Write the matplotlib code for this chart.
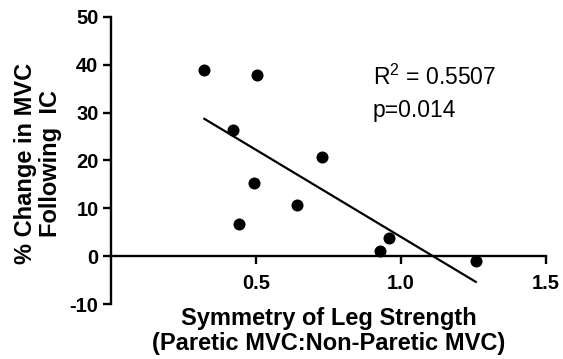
import numpy as np
import matplotlib
matplotlib.use("Agg")
import matplotlib.pyplot as plt

# ─── données ─────────────────────────────────────────────────────────────────
symetrie = [0.322, 0.502, 0.422, 0.728, 0.493, 0.640, 0.441, 0.957, 0.928, 1.258]
chg_mvc  = [38.9, 37.9, 26.4, 20.8, 15.3, 10.7, 6.8, 3.9, 1.0, -1.0]

x_ticks = [0.5, 1.0, 1.5]
x_tick_labels = ["0.5", "1.0", "1.5"]
y_ticks = [-10, 0, 10, 20, 30, 40, 50]

r2_txt = r"$\mathrm{R}^{2}$ = 0.5507"
p_txt  = "p=0.014"

plt.rcParams["font.family"] = ["Liberation Sans", "DejaVu Sans"]
plt.rcParams["axes.unicode_minus"] = False
plt.rcParams["mathtext.fontset"] = "custom"
plt.rcParams["mathtext.rm"] = "Liberation Sans"

fig = plt.figure(figsize=(5.63, 3.59), dpi=100)
ax = fig.add_axes([111 / 563, 1 - 304 / 359, 435 / 563, 287 / 359])

# points
ax.scatter(symetrie, chg_mvc, s=75, color="black", zorder=3, linewidths=0)

# droite de régression
pente, orig = np.polyfit(symetrie, chg_mvc, 1)
xs = np.array([min(symetrie), max(symetrie)])
ax.plot(xs, pente * xs + orig, color="black", lw=1.6, zorder=2)

ax.set_xlim(0, 1.5)
ax.set_ylim(-10, 50)
ax.set_xticks(x_ticks)
ax.set_xticklabels(x_tick_labels)
ax.set_yticks(y_ticks)

# axes façon Prism
ax.spines[["top", "right"]].set_visible(False)
ax.spines["bottom"].set_position(("data", 0))
for s in ["left", "bottom"]:
    ax.spines[s].set_linewidth(1.7)
ax.tick_params(axis="both", direction="out", length=6, width=1.7,
               labelsize=14.5)
ax.tick_params(axis="x", pad=7)
ax.tick_params(axis="y", pad=3)
for lab in ax.get_xticklabels() + ax.get_yticklabels():
    lab.set_fontweight("bold")

ax.set_xlabel("Symmetry of Leg Strength\n(Paretic MVC:Non-Paretic MVC)",
              fontsize=17, fontweight="bold", linespacing=1.12)
ax.xaxis.set_label_coords(0.5, -0.01)
ax.set_ylabel("% Change in MVC\nFollowing  IC",
              fontsize=17, fontweight="bold", linespacing=1.12)
ax.yaxis.set_label_coords(-0.113, 0.49)

ax.text(0.903, 35.8, r2_txt, fontsize=16.5, va="baseline", ha="left")
ax.text(0.903, 29.1, p_txt, fontsize=16.5, va="baseline", ha="left")

fig.savefig("out.png", dpi=100)
